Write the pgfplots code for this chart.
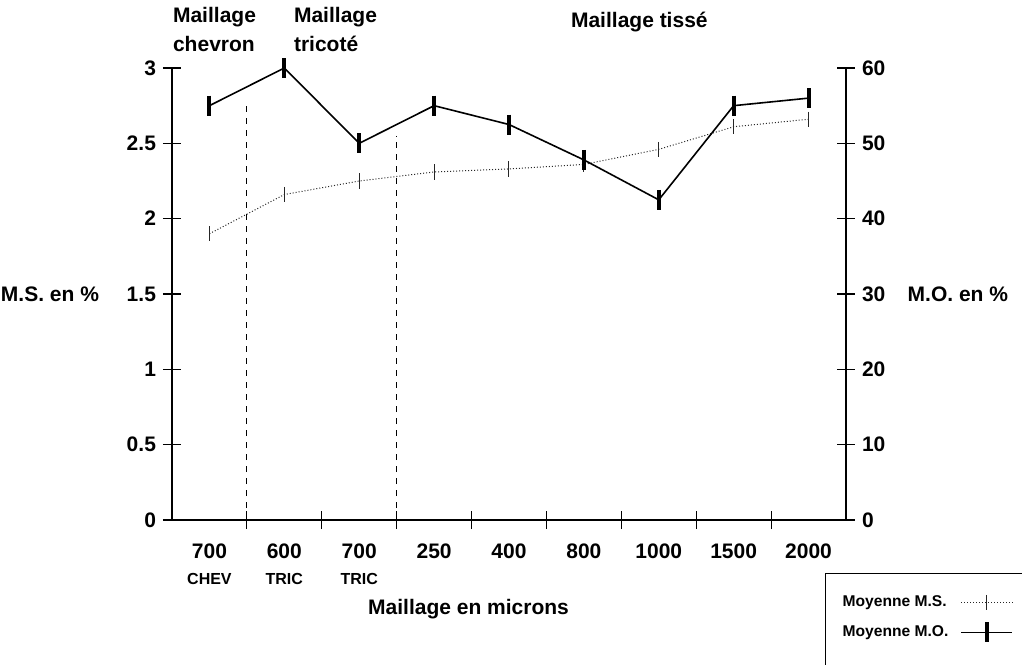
\documentclass[border=0pt]{standalone}
\usepackage{fontspec}
\setmainfont{Liberation Sans}
\usepackage{pgfplots}
\pgfplotsset{compat=1.18}
\begin{document}
\begin{tikzpicture}[font=\bfseries\fontsize{10.5}{12}\selectfont]
\pgfplotsset{
  common/.style={
    scale only axis, width=337pt, height=226pt,
    at={(0,0)}, anchor=south west,
    xmin=-0.5, xmax=8.5, ymin=0,
    tick align=center, major tick length=9pt,
    /pgf/number format/assume math mode=true,
    tick label style={font=\bfseries\fontsize{10.5}{12}\selectfont},
    axis line style={line width=0.6pt},
    tick style={line width=0.6pt, black},
    legend image code/.code={\draw[mark repeat=2,mark phase=2,##1] plot coordinates {(0cm,0cm) (0.45cm,0cm) (0.9cm,0cm)}; \path[draw=none, fill=none] (0cm,0cm) -- (1.3cm,0cm);},
  },
  msstyle/.style={black!85, densely dotted, line width=0.5pt, mark=|, mark size=3.8pt, mark options={solid, line width=0.5pt}},
  mostyle/.style={black, solid, line width=0.8pt, mark=|, mark size=5pt, mark options={solid, line width=2pt}},
}
\begin{axis}[common, ymax=3,
  axis y line*=left, axis x line*=bottom,
  ytick={0,0.5,1,1.5,2,2.5,3},
  yticklabels={0,0.5,1,1.5,2,2.5,3},
  xtick={0.5,1.5,...,7.5}, xticklabels={},
  extra x ticks={0,1,2,3,4,5,6,7,8},
  extra x tick labels={{700\\[1pt]{\fontsize{8}{9}\selectfont CHEV}},{600\\[1pt]{\fontsize{8}{9}\selectfont TRIC}},{700\\[1pt]{\fontsize{8}{9}\selectfont TRIC}},250,400,800,1000,1500,2000},
  extra x tick style={tick style={draw=none}, tick label style={align=center, anchor=north, yshift=-4pt}},
  xlabel={Maillage en microns},
  xlabel style={at={(axis description cs:0.44,-0.208)}, anchor=base},
  ylabel={M.S. en \%},
  ylabel style={rotate=-90, at={(axis description cs:-0.181,0.5)}, anchor=center},
]
\addplot[msstyle] coordinates {(0,1.90) (1,2.16) (2,2.25) (3,2.31) (4,2.33) (5,2.36) (6,2.46) (7,2.61) (8,2.66)};
\addplot[black, dashed, line width=0.6pt] coordinates {(0.5,0) (0.5,2.77)};
\addplot[black, dashed, line width=0.6pt] coordinates {(2.5,0) (2.5,2.55)};
\end{axis}
\begin{axis}[common, ymax=60,
  axis y line*=right, axis x line=none,
  ytick={0,10,...,60},
  ylabel={M.O. en \%},
  ylabel style={rotate=-90, at={(axis description cs:1.166,0.5)}, anchor=center},
  legend style={at={(0.969,-0.117)}, anchor=north west, draw=black, line width=0.6pt,
    font=\bfseries\fontsize{7.8}{9}\selectfont, inner xsep=6.5pt, inner ysep=9pt,
    row sep=4pt, column sep=4pt},
  legend cell align=left, legend plot pos=right,
]
\addlegendimage{msstyle}
\addlegendentry{Moyenne M.S.}
\addplot[mostyle] coordinates {(0,55) (1,60) (2,50) (3,55) (4,52.5) (5,47.8) (6,42.5) (7,55) (8,56)};
\addlegendentry{Moyenne M.O.}
\addlegendimage{empty legend}
\addlegendentry{}
\end{axis}
\node[anchor=base west] at (-3pt,248.5pt) {Maillage};
\node[anchor=base west] at (-3pt,234pt) {chevron};
\node[anchor=base west] at (57.5pt,248.5pt) {Maillage};
\node[anchor=base west] at (57.5pt,234pt) {tricoté};
\node[anchor=base west] at (196pt,246pt) {Maillage tissé};
\pgfresetboundingbox
\useasboundingbox (-86pt,-72pt) rectangle (425pt,260pt);
\end{tikzpicture}
\end{document}
